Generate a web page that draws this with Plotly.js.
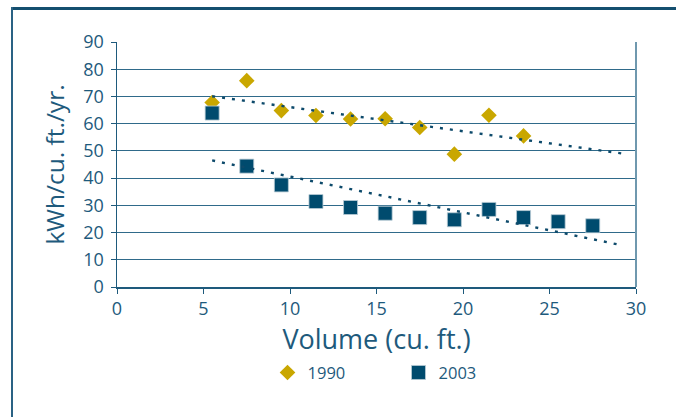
<!DOCTYPE html>
<html>
<head>
<meta charset="utf-8">
<script src="https://cdn.plot.ly/plotly-3.0.1.min.js"></script>
<style>
  html, body { margin: 0; padding: 0; background: #ffffff; }
  #wrap { position: relative; width: 676px; height: 417px; overflow: hidden; }
  #chart { position: absolute; left: 0; top: 0; width: 676px; height: 417px; }
  #frameTop { position: absolute; left: 11px; top: 7px; width: 665px; height: 3px; background: #144f6f; pointer-events: none; }
  #frameLeft { position: absolute; left: 11px; top: 7px; width: 2px; height: 410px; background: #2a6284; pointer-events: none; }
</style>
</head>
<body>
<div id="wrap">
  <div id="chart"></div>
  <div id="frameTop"></div>
  <div id="frameLeft"></div>
</div>
<script>
// ---- data ----
const seriesNames = ["1990", "2003"];
const volume1990 = [5.5, 7.5, 9.5, 11.5, 13.5, 15.5, 17.5, 19.5, 21.5, 23.5];
const kwh1990    = [67.8, 75.8, 64.8, 63.0, 61.7, 61.8, 58.6, 48.8, 63.1, 55.5];
const volume2003 = [5.5, 7.5, 9.5, 11.5, 13.5, 15.5, 17.5, 19.5, 21.5, 23.5, 25.5, 27.5];
const kwh2003    = [63.9, 44.4, 37.5, 31.4, 29.2, 27.1, 25.5, 24.7, 28.5, 25.5, 24.0, 22.5];
const trendEnd   = [29.2, 29.0];   // x where each dotted trendline stops
const xTicks = [0, 5, 10, 15, 20, 25, 30];
const yTicks = [0, 10, 20, 30, 40, 50, 60, 70, 80, 90];
const xTitle = "Volume (cu. ft.)";
const yTitle = "kWh/cu. ft./yr.";

// ---- styles ----
const gold = "#c9a700";
const navy = "#004b6e";
const ink  = "#1e5a7c";
const font = "Open Sans, DejaVu Sans, sans-serif";

function linFit(xs, ys) {
  const n = xs.length;
  const mx = xs.reduce((a, b) => a + b, 0) / n;
  const my = ys.reduce((a, b) => a + b, 0) / n;
  let sxy = 0, sxx = 0;
  for (let i = 0; i < n; i++) { sxy += (xs[i] - mx) * (ys[i] - my); sxx += (xs[i] - mx) ** 2; }
  const b = sxy / sxx;
  return x => my + b * (x - mx);
}
function trendTrace(xs, ys, xEnd) {
  const f = linFit(xs, ys);
  const x0 = Math.min(...xs);
  return {
    x: [x0, xEnd], y: [f(x0), f(xEnd)],
    type: "scatter", mode: "lines", showlegend: false, hoverinfo: "skip",
    line: { color: "#0d4a6b", width: 2.4, dash: "3px,7px" }
  };
}

const traces = [
  { x: volume1990, y: kwh1990, name: seriesNames[0], type: "scatter", mode: "markers",
    marker: { symbol: "diamond", size: 12, color: gold, line: { width: 0 } } },
  { x: volume2003, y: kwh2003, name: seriesNames[1], type: "scatter", mode: "markers",
    marker: { symbol: "square", size: 14, color: navy, line: { width: 0.8, color: "#b9ccd6" } } },
  trendTrace(volume1990, kwh1990, trendEnd[0]),
  trendTrace(volume2003, kwh2003, trendEnd[1])
];

const layout = {
  width: 676, height: 417,
  margin: { l: 117, r: 39.5, t: 42, b: 130, pad: 0 },
  paper_bgcolor: "#ffffff", plot_bgcolor: "#ffffff",
  font: { family: font, color: ink, size: 18 },
  showlegend: true,
  legend: {
    orientation: "h", x: 0.29, xanchor: "left", y: -0.35, yanchor: "middle",
    font: { family: font, size: 16.5, color: ink }, entrywidth: 86, entrywidthmode: "pixels",
    bgcolor: "rgba(0,0,0,0)"
  },
  xaxis: {
    range: [0, 30], tickvals: xTicks, ticktext: xTicks.map(String),
    showgrid: false, zeroline: false,
    showline: true, linecolor: ink, linewidth: 1.5,
    ticks: "outside", ticklen: 5, tickcolor: ink, tickwidth: 1,
    tickfont: { size: 18, color: ink, family: font },
    title: { text: xTitle, font: { size: 27, color: ink, family: font }, standoff: 11 }
  },
  yaxis: {
    range: [0, 90], tickvals: yTicks, ticktext: yTicks.map(String),
    showgrid: true, gridcolor: "#2f6a8a", gridwidth: 1,
    zeroline: false,
    showline: true, linecolor: ink, linewidth: 1.5,
    ticks: "outside", ticklen: 5, tickcolor: ink, tickwidth: 1,
    ticklabelstandoff: 3,
    tickfont: { size: 18, color: ink, family: font },
    title: { text: yTitle, font: { size: 24.5, color: ink, family: font }, standoff: 11 }
  },
  shapes: [
    { type: "line", xref: "paper", yref: "paper", x0: 1, x1: 1, y0: 0, y1: 1,
      line: { color: "#6f98ae", width: 2 }, layer: "above" }
  ]
};

Plotly.newPlot("chart", traces, layout, { staticPlot: true, displayModeBar: false });
</script>
</body>
</html>
